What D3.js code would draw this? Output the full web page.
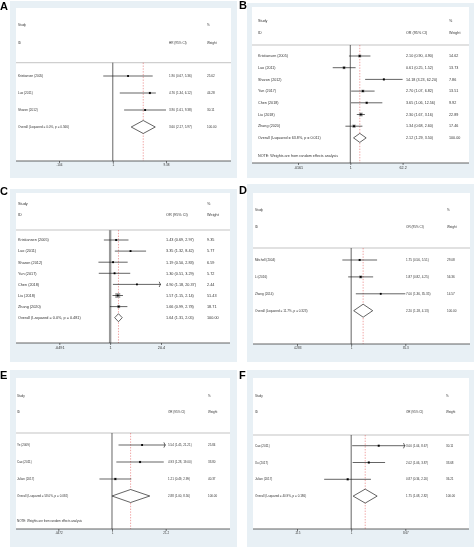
<!DOCTYPE html>
<html>
<head>
<meta charset="utf-8">
<script src="https://cdn.jsdelivr.net/npm/d3@7"></script>
<style>
  body { margin: 0; background: #fff; }
  svg { will-change: transform; }
  text { font-family: "Liberation Sans", Arial, sans-serif; fill: #222; }
</style>
</head>
<body>
<svg id="chart" width="474" height="547"></svg>
<script>
// ---- data ----
const studiesA = ["Kristiansen (2005)", "Luo (2011)", "Sharon (2012)"];
const estA = [1.90, 4.76, 3.90];
const lowA = [0.67, 1.34, 1.61];
const highA = [5.36, 6.12, 9.38];
const weightA = [25.62, 44.28, 30.11];
const arrowA = [false, false, false];
const overallA = [3.60, 2.17, 5.97];
const hetA = "Overall  (I-squared = 0.0%, p = 0.566)";
const ticksA = [0.104, 1, 9.38];
const tickLabelsA = [".104", "1", "9.38"];

const studiesB = ["Kristiansen (2005)", "Luo (2011)", "Sharon (2012)", "Yun (2017)", "Chen (2018)", "Liu (2018)", "Zhang (2020)"];
const estB = [2.10, 0.61, 14.18, 2.70, 3.65, 2.30, 1.34];
const lowB = [0.90, 0.25, 3.23, 1.07, 1.06, 1.67, 0.68];
const highB = [4.90, 1.52, 62.20, 6.82, 12.56, 3.16, 2.60];
const weightB = [14.62, 13.73, 7.86, 13.51, 9.92, 22.89, 17.46];
const arrowB = [false, false, false, false, false, false, false];
const overallB = [2.12, 1.29, 3.50];
const hetB = "Overall  (I-squared = 63.8%, p = 0.011)";
const ticksB = [0.0161, 1, 62.2];
const tickLabelsB = [".0161", "1", "62.2"];

const studiesC = ["Kristiansen (2005)", "Luo (2011)", "Sharon (2012)", "Yun (2017)", "Chen (2018)", "Liu (2018)", "Zhang (2020)"];
const estC = [1.43, 3.35, 1.19, 1.30, 4.90, 1.57, 1.66];
const lowC = [0.69, 1.32, 0.50, 0.51, 1.18, 1.15, 0.99];
const highC = [2.97, 8.42, 2.83, 3.29, 20.37, 2.14, 2.78];
const weightC = [9.35, 5.77, 6.59, 5.72, 2.44, 51.43, 18.71];
const arrowC = [false, false, false, false, true, false, false];
const overallC = [1.64, 1.31, 2.05];
const hetC = "Overall  (I-squared = 0.0%, p = 0.481)";
const ticksC = [0.0491, 1, 20.4];
const tickLabelsC = [".0491", "1", "20.4"];

const studiesD = ["Mitchell (2004)", "Li (2016)", "Zhang (2014)"];
const estD = [1.75, 1.87, 7.00];
const lowD = [0.56, 0.82, 1.36];
const highD = [5.51, 4.25, 35.35];
const weightD = [29.08, 56.36, 14.57];
const arrowD = [false, false, false];
const overallD = [2.20, 1.18, 4.13];
const hetD = "Overall  (I-squared = 11.7%, p = 0.323)";
const ticksD = [0.0283, 1, 35.3];
const tickLabelsD = [".0283", "1", "35.3"];

const studiesE = ["Ye (2009)", "Cao (2011)", "Julian (2017)"];
const estE = [5.54, 4.93, 1.21];
const lowE = [1.45, 1.28, 0.49];
const highE = [21.21, 19.00, 2.99];
const weightE = [25.84, 33.80, 40.37];
const arrowE = [true, false, false];
const overallE = [2.88, 1.00, 8.56];
const hetE = "Overall  (I-squared = 58.0%, p = 0.092)";
const ticksE = [0.0472, 1, 21.2];
const tickLabelsE = [".0472", "1", "21.2"];

const studiesF = ["Cao (2011)", "Xu (2017)", "Julian (2017)"];
const estF = [3.00, 2.02, 0.87];
const lowF = [1.04, 1.06, 0.34];
const highF = [8.67, 3.87, 2.20];
const weightF = [30.11, 33.68, 36.21];
const arrowF = [true, false, false];
const overallF = [1.75, 1.08, 2.82];
const hetF = "Overall  (I-squared = 40.9%, p = 0.186)";
const ticksF = [0.115, 1, 8.67];
const tickLabelsF = [".115", "1", "8.67"];

const noteText = "NOTE: Weights are from random effects analysis";

// ---- layout of each panel ----
const panels = [
  { letter: "A", effect: "HR (95% CI)", studies: studiesA, est: estA, low: lowA, high: highA, weight: weightA, arrow: arrowA, overall: overallA, het: hetA, ticks: ticksA, tickLabels: tickLabelsA, note: false,
    L: { lx: 0, ly: 9.5, bg: [10, 1, 237, 178], inner: [16, 8, 231], sepY: 62.7, studyY: 25, idY: 43, row0: 76, step: 17, axisY: 161, tickPx: [59, 166], textX: 18, ciX: 169, wX: 207, font: 3.1, box: 0.35, dHalf: 6.5, noteY: 0, thickZero: false } },
  { letter: "B", effect: "OR (95% CI)", studies: studiesB, est: estB, low: lowB, high: highB, weight: weightB, arrow: arrowB, overall: overallB, het: hetB, ticks: ticksB, tickLabels: tickLabelsB, note: true,
    L: { lx: 239, ly: 9, bg: [247, 3, 474, 178], inner: [252, 7, 469], sepY: 45, studyY: 21, idY: 33, row0: 56, step: 11.7, axisY: 163, tickPx: [298, 402.6], textX: 258, ciX: 406, wX: 449, font: 3.7, box: 0.8, dHalf: 4.5, noteY: 156, thickZero: false } },
  { letter: "C", effect: "OR (95% CI)", studies: studiesC, est: estC, low: lowC, high: highC, weight: weightC, arrow: arrowC, overall: overallC, het: hetC, ticks: ticksC, tickLabels: tickLabelsC, note: false,
    L: { lx: 0, ly: 195, bg: [10, 189, 237, 362], inner: [16, 193, 230], sepY: 230, studyY: 204, idY: 215, row0: 240, step: 11.1, axisY: 343, tickPx: [59.3, 161], textX: 18, ciX: 166, wX: 207, font: 3.8, box: 0.7, dHalf: 4, noteY: 0, thickZero: true } },
  { letter: "D", effect: "OR (95% CI)", studies: studiesD, est: estD, low: lowD, high: highD, weight: weightD, arrow: arrowD, overall: overallD, het: hetD, ticks: ticksD, tickLabels: tickLabelsD, note: false,
    L: { lx: 239, ly: 194, bg: [247, 184, 474, 362], inner: [253, 193, 470], sepY: 248, studyY: 210, idY: 227, row0: 260, step: 16.9, axisY: 344, tickPx: [297, 405.3], textX: 255, ciX: 406, wX: 447, font: 3.1, box: 0.4, dHalf: 6.5, noteY: 0, thickZero: false } },
  { letter: "E", effect: "OR (95% CI)", studies: studiesE, est: estE, low: lowE, high: highE, weight: weightE, arrow: arrowE, overall: overallE, het: hetE, ticks: ticksE, tickLabels: tickLabelsE, note: true,
    L: { lx: 0, ly: 379, bg: [10, 370, 237, 547], inner: [16, 378, 230], sepY: 433, studyY: 395.7, idY: 412, row0: 445, step: 17, axisY: 529, tickPx: [58.3, 165.7], textX: 17, ciX: 168, wX: 208, font: 3.0, box: 0.4, dHalf: 6.5, noteY: 520.7, thickZero: false } },
  { letter: "F", effect: "OR (95% CI)", studies: studiesF, est: estF, low: lowF, high: highF, weight: weightF, arrow: arrowF, overall: overallF, het: hetF, ticks: ticksF, tickLabels: tickLabelsF, note: false,
    L: { lx: 239, ly: 379, bg: [247, 370, 474, 547], inner: [253, 378, 469], sepY: 435, studyY: 395.7, idY: 412, row0: 445.7, step: 16.8, axisY: 529, tickPx: [297, 405.3], textX: 255, ciX: 406, wX: 446, font: 3.0, box: 0.4, dHalf: 7, noteY: 0, thickZero: false } }
];

const svg = d3.select("#chart");
const f2 = d3.format(".2f");

function drawPanel(p) {
  const L = p.L;
  const g = svg.append("g");
  const n = p.studies.length;

  // graph region + plot region
  g.append("rect")
    .attr("x", L.bg[0]).attr("y", L.bg[1])
    .attr("width", L.bg[2] - L.bg[0]).attr("height", L.bg[3] - L.bg[1])
    .attr("fill", "#e8f0f5");
  g.append("rect")
    .attr("x", L.inner[0]).attr("y", L.inner[1])
    .attr("width", L.inner[2] - L.inner[0]).attr("height", L.axisY - L.inner[1])
    .attr("fill", "#fff");

  g.append("text").attr("x", L.lx).attr("y", L.ly)
    .attr("font-size", 11).attr("font-weight", "bold").style("fill", "#000")
    .text(p.letter);

  const x = d3.scaleLog().domain([p.ticks[0], p.ticks[2]]).range(L.tickPx);
  const y = d3.scaleLinear().domain([0, n]).range([L.row0, L.row0 + n * L.step]);

  const fs = L.font;
  const txt = (tx, ty, s) => g.append("text").attr("x", tx).attr("y", ty)
    .attr("dy", "0.35em").attr("font-size", fs).style("fill", "#333").text(s);

  // header
  txt(L.textX, L.studyY, "Study");
  txt(L.textX, L.idY, "ID");
  txt(L.ciX, L.idY, p.effect);
  txt(L.wX, L.studyY, "%");
  txt(L.wX, L.idY, "Weight");

  g.append("line")
    .attr("x1", L.inner[0]).attr("x2", L.inner[2])
    .attr("y1", L.sepY).attr("y2", L.sepY)
    .attr("stroke", "#aaa").attr("stroke-width", 0.7);

  // null line
  g.append("line")
    .attr("x1", x(1)).attr("x2", x(1))
    .attr("y1", L.sepY).attr("y2", L.axisY)
    .attr("stroke", L.thickZero ? "#999" : "#222")
    .attr("stroke-width", L.thickZero ? 2.4 : 0.7);

  // overall estimate line
  g.append("line")
    .attr("x1", x(p.overall[0])).attr("x2", x(p.overall[0]))
    .attr("y1", L.sepY).attr("y2", L.axisY)
    .attr("stroke", "#e04a4a").attr("stroke-width", 0.5)
    .attr("stroke-dasharray", "1.4,1.4");

  // study rows
  const rows = d3.range(n);
  g.selectAll(".box").data(rows).join("rect")
    .attr("x", i => x(p.est[i]) - L.box * Math.sqrt(p.weight[i]) / 2)
    .attr("y", i => y(i) - L.box * Math.sqrt(p.weight[i]) / 2)
    .attr("width", i => L.box * Math.sqrt(p.weight[i]))
    .attr("height", i => L.box * Math.sqrt(p.weight[i]))
    .attr("fill", "#a8a8a8");

  g.selectAll(".ci").data(rows).join("line")
    .attr("x1", i => x(p.low[i])).attr("x2", i => x(Math.min(p.high[i], p.ticks[2])))
    .attr("y1", i => y(i)).attr("y2", i => y(i))
    .attr("stroke", "#222").attr("stroke-width", 0.7);

  g.selectAll(".arr").data(rows.filter(i => p.arrow[i])).join("path")
    .attr("d", i => {
      const ax = x(Math.min(p.high[i], p.ticks[2])), ay = y(i);
      return `M${ax - 1.8},${ay - 2.6} Q${ax + 0.6},${ay} ${ax - 1.8},${ay + 2.6}`;
    })
    .attr("fill", "none").attr("stroke", "#222").attr("stroke-width", 0.7);

  g.selectAll(".pt").data(rows).join("rect")
    .attr("x", i => x(p.est[i]) - 0.9).attr("y", i => y(i) - 0.9)
    .attr("width", 1.8).attr("height", 1.8).attr("fill", "#000");

  rows.forEach(i => {
    txt(L.textX, y(i), p.studies[i]);
    txt(L.ciX, y(i), `${f2(p.est[i])} (${f2(p.low[i])}, ${f2(p.high[i])})`);
    txt(L.wX, y(i), f2(p.weight[i]));
  });

  // overall diamond
  const oy = y(n);
  g.append("path")
    .attr("d", `M${x(p.overall[1])},${oy} L${x(p.overall[0])},${oy - L.dHalf} L${x(p.overall[2])},${oy} L${x(p.overall[0])},${oy + L.dHalf} Z`)
    .attr("fill", "#fff").attr("stroke", "#222").attr("stroke-width", 0.7);
  txt(L.textX, oy, p.het);
  txt(L.ciX, oy, `${f2(p.overall[0])} (${f2(p.overall[1])}, ${f2(p.overall[2])})`);
  txt(L.wX, oy, f2(Math.round(d3.sum(p.weight))));

  if (p.note) txt(L.textX, L.noteY, noteText);

  // axis
  g.append("line")
    .attr("x1", L.inner[0]).attr("x2", L.inner[2])
    .attr("y1", L.axisY).attr("y2", L.axisY)
    .attr("stroke", "#222").attr("stroke-width", 0.7);
  const ax = g.append("g").attr("transform", `translate(0,${L.axisY})`)
    .call(d3.axisBottom(x).tickValues(p.ticks).tickSize(2).tickPadding(1)
      .tickFormat((v, i) => p.tickLabels[i]));
  ax.select(".domain").remove();
  ax.selectAll("line").attr("stroke", "#222").attr("stroke-width", 0.6);
  ax.selectAll("text").attr("font-size", fs).style("font-family", "Liberation Sans, Arial, sans-serif").style("fill", "#333");
}

panels.forEach(drawPanel);
</script>
</body>
</html>
